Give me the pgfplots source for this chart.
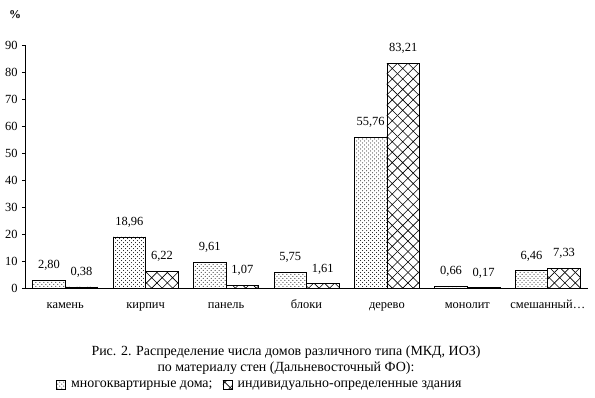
\documentclass[border=0pt]{standalone}
\usepackage{pgfplots}
\pgfplotsset{compat=1.18}
\usepackage{fontspec}
\setmainfont{Liberation Serif}
\usetikzlibrary{patterns}
\pgfdeclarepatternformonly{mydots}{\pgfqpoint{-1pt}{-1pt}}{\pgfqpoint{5pt}{5pt}}{\pgfqpoint{4pt}{4pt}}{%
  \pgfpathcircle{\pgfqpoint{0pt}{0pt}}{0.5pt}%
  \pgfpathcircle{\pgfqpoint{2pt}{2pt}}{0.5pt}%
  \pgfusepath{fill}}
\pgfdeclarepatternformonly{mycross}{\pgfqpoint{-1pt}{-1pt}}{\pgfqpoint{11pt}{11pt}}{\pgfqpoint{10.5pt}{10.5pt}}{%
  \pgfsetlinewidth{0.6pt}%
  \pgfpathmoveto{\pgfqpoint{0pt}{0pt}}\pgfpathlineto{\pgfqpoint{10.5pt}{10.5pt}}%
  \pgfpathmoveto{\pgfqpoint{0pt}{10.5pt}}\pgfpathlineto{\pgfqpoint{10.5pt}{0pt}}%
  \pgfusepath{stroke}}
\begin{document}
\begin{tikzpicture}
\useasboundingbox (-25bp,-110bp) rectangle (570bp,288bp);
\begin{axis}[
  at={(0,0)}, anchor=south west,
  scale only axis, width=563bp, height=243bp,
  xmin=-0.5, xmax=6.5, ymin=0, ymax=90,
  axis x line*=bottom, axis y line*=left,
  axis line style={-, black, line width=0.5pt},
  ytick={0,10,...,90},
  ytick style={black, line width=0.5pt},
  y tick label style={font=\fontsize{12.5}{13}\selectfont, xshift=-1bp, /pgf/number format/assume math mode=true},
  xtick={0,...,6},
  xticklabels={камень,кирпич,панель,блоки,дерево,монолит,смешанный…},
  x tick label style={font=\fontsize{12.5}{13}\selectfont, anchor=base, yshift=-17bp},
  major x tick style={draw=none},
  extra x ticks={-0.5,0.5,1.5,2.5,3.5,4.5,5.5,6.5},
  extra x tick labels={},
  extra x tick style={tick align=center, major tick length=5bp, tick style={black, line width=0.5pt}},
  tick align=outside, major tick length=3bp,
  ybar, bar width=0.405,
  nodes near coords,
  every node near coord/.append style={font=\fontsize{12.5}{13}\selectfont, anchor=south, yshift=6bp,
    /pgf/number format/.cd, fixed, fixed zerofill, precision=2, use comma, assume math mode=true},
  legend style={at={(0.417,-0.40)}, anchor=center, draw=none, font=\fontsize{14}{15}\selectfont, legend columns=2,
    /tikz/every even column/.append style={column sep=8bp},
    legend cell align=left},
  legend image code/.code={\draw[#1] (0bp,-4bp) rectangle (9bp,5bp);},
  clip=false,
]
\addplot[draw=black, line width=0.6pt, pattern=mydots, bar shift=-0.2025] coordinates {(0,2.80) (1,18.96) (2,9.61) (3,5.75) (4,55.76) (5,0.66) (6,6.46)};
\addplot[draw=black, line width=0.6pt, pattern=mycross, bar shift=0.2025] coordinates {(0,0.38) (1,6.22) (2,1.07) (3,1.61) (4,83.21) (5,0.17) (6,7.33)};
\legend{\ многоквартирные дома;,\ индивидуально-определенные здания}
\end{axis}
\node[font=\bfseries\fontsize{12}{13}\selectfont] at (-10bp,273bp) {\%};
\node[font=\fontsize{14}{15}\selectfont] at (261bp,-64bp) {Рис. 2. Распределение числа домов различного типа (МКД, ИОЗ)};
\node[font=\fontsize{14}{15}\selectfont] at (261bp,-80bp) {по материалу стен (Дальневосточный ФО):};
\end{tikzpicture}
\end{document}
